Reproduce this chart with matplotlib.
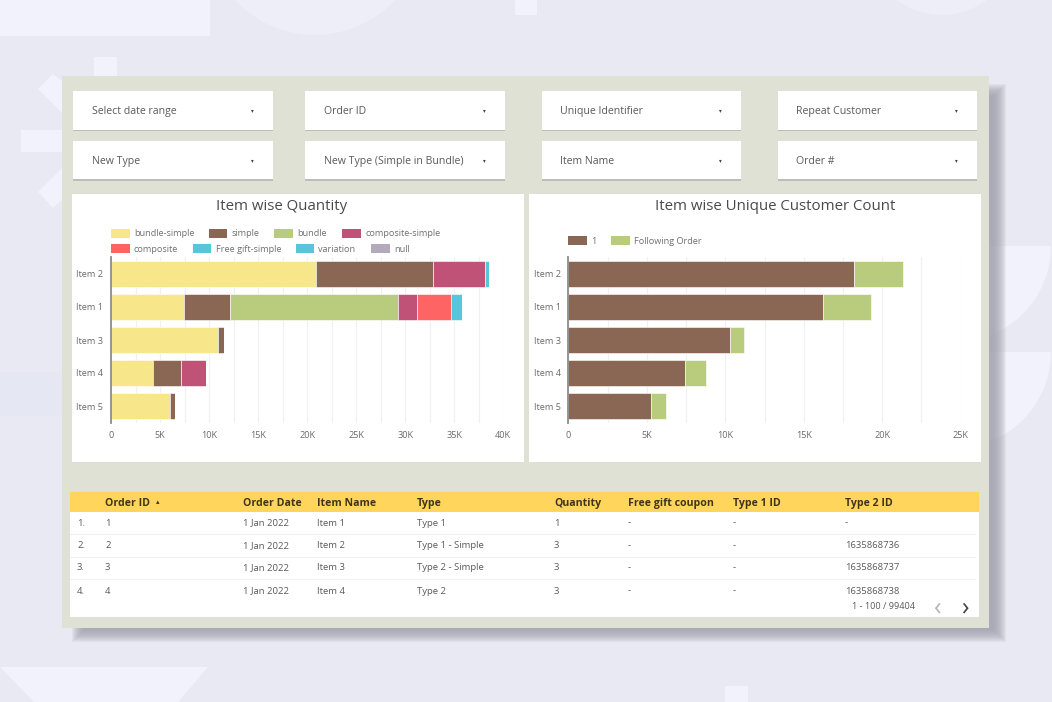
import matplotlib
matplotlib.use("Agg")
import matplotlib.pyplot as plt
from matplotlib.patches import Rectangle, Circle, Wedge, Polygon
from matplotlib.ticker import FuncFormatter, MultipleLocator

W, H = 1052, 702
plt.rcParams['font.family'] = ['Open Sans', 'DejaVu Sans']

# ---- data ----
items = ["Item 2", "Item 1", "Item 3", "Item 4", "Item 5"]
qty_series = ["bundle-simple", "simple", "bundle", "composite-simple",
              "composite", "Free gift-simple", "variation", "null"]
bundle_simple = [20900, 7450, 10900, 4250, 6050]
simple = [11900, 4700, 600, 2900, 450]
bundle = [0, 17100, 0, 0, 0]
composite_simple = [5300, 1900, 0, 2500, 0]
composite = [0, 3500, 0, 0, 0]
free_gift_simple = [400, 1100, 0, 0, 0]
variation = [0, 0, 0, 0, 0]
null_values = [0, 0, 0, 0, 0]
qty_values = [bundle_simple, simple, bundle, composite_simple, composite,
              free_gift_simple, variation, null_values]
qty_colors = ["#F7E78A", "#8A6655", "#B9CC7E", "#C05277", "#FF6464",
              "#57C6D8", "#57C6D8", "#B3ABBC"]

cust_series = ["1", "Following Order"]
cust_first = [18200, 16250, 10300, 7450, 5300]
cust_following = [3150, 3050, 900, 1300, 950]
cust_colors = ["#8A6655", "#B9CC7E"]

filters_row1 = ["Select date range", "Order ID", "Unique Identifier", "Repeat Customer"]
filters_row2 = ["New Type", "New Type (Simple in Bundle)", "Item Name", "Order #"]

table_headers = ["Order ID", "Order Date", "Item Name", "Type", "Quantity",
                 "Free gift coupon", "Type 1 ID", "Type 2 ID"]
table_rows = [
    ["1.", "1", "1 Jan 2022", "Item 1", "Type 1", "1", "-", "-", "-"],
    ["2.", "2", "1 Jan 2022", "Item 2", "Type 1 - Simple", "3", "-", "-", "1635868736"],
    ["3.", "3", "1 Jan 2022", "Item 3", "Type 2 - Simple", "3", "-", "-", "1635868737"],
    ["4.", "4", "1 Jan 2022", "Item 4", "Type 2", "3", "-", "-", "1635868738"],
]

# ---- canvas in pixel coordinates ----
fig = plt.figure(figsize=(W / 100, H / 100), dpi=100, facecolor="#E8E9F3")
bg = fig.add_axes([0, 0, 1, 1])
bg.set_xlim(0, W)
bg.set_ylim(H, 0)
bg.axis("off")

LIGHT = "#F2F2FC"
def rect(x0, y0, x1, y1, color, z=1, alpha=1.0):
    bg.add_patch(Rectangle((x0, y0), x1 - x0, y1 - y0, fc=color, ec="none", zorder=z, alpha=alpha))

# background shapes
rect(0, 0, 210, 36, LIGHT)
rect(515, 0, 537, 15, LIGHT)
rect(94, 57, 117, 76, LIGHT)
rect(21, 130, 62, 152, LIGHT)
rect(725, 686, 748, 702, LIGHT)
rect(0, 372, 62, 416, "#E5E7F2")
bg.add_patch(Circle((315, -74), 109, fc="#EEEEF8", ec="none", zorder=1))
bg.add_patch(Circle((942, -60), 75, fc="#EEEEF8", ec="none", zorder=1))
bg.add_patch(Polygon([(38, 89), (53, 74), (62, 81), (62, 113)], fc=LIGHT, ec="none", zorder=1))
bg.add_patch(Polygon([(38, 192), (53, 208), (62, 200), (62, 168)], fc=LIGHT, ec="none", zorder=1))
bg.add_patch(Polygon([(0, 667), (208, 667), (178, 702), (34, 702)], fc=LIGHT, ec="none", zorder=1))
bg.add_patch(Wedge((955, 246), 96, 0, 180, fc=LIGHT, ec="none", zorder=1))
bg.add_patch(Wedge((955, 352), 96, 0, 180, fc=LIGHT, ec="none", zorder=1))

# soft dashboard shadow
for k in range(13):
    d = 6 - k
    rect(78 - d, 90 - d, 1000 + d, 636 + d, "#9C9DAA", z=2, alpha=0.11)

# dashboard panel
rect(62, 76, 989, 628, "#E0E1D5", z=3)

# filter cards
TXT = "#5A5A5A"
card_x = [(73, 273), (305, 505), (542, 741), (778, 977)]
def card(x0, y0, x1, y1, label):
    rect(x0, y0 + 1.5, x1, y1 + 1.5, "#BDBDB8", z=4)
    rect(x0, y0, x1, y1, "white", z=5)
    bg.text(x0 + 18.5, (y0 + y1) / 2, label, fontsize=7.6, color=TXT,
            va="center_baseline", ha="left", zorder=6)
    bg.text(x1 - 21, (y0 + y1) / 2, "▾", fontsize=4, color="#444444",
            va="center_baseline", ha="center", family="DejaVu Sans", zorder=6)
for (x0, x1), a, b in zip(card_x, filters_row1, filters_row2):
    card(x0, 91, x1, 129.5, a)
    card(x0, 141, x1, 179, b)

# chart cards
rect(72, 194, 524, 462, "white", z=4)
rect(529, 194, 981, 462, "white", z=4)
bg.text(282, 205, "Item wise Quantity", fontsize=10.8, color="#4A4A4A", ha="center",
        va="center_baseline", zorder=6)
bg.text(775, 205, "Item wise Unique Customer Count", fontsize=10.8, color="#4A4A4A", ha="center",
        va="center_baseline", zorder=6)

# hand-flowed legends (as in the reference, entries are not column aligned)
def legend_entry(x, y, label, color):
    rect(x, y - 4.5, x + 18.5, y + 4.5, color, z=6)
    bg.text(x + 23, y, label, fontsize=6.6, color="#707070", va="center_baseline", ha="left", zorder=6)
legend_slots = [(111, 233), (208.5, 233), (274, 233), (342, 233),
                (111, 248), (192.5, 248), (295.5, 248), (371, 248)]
for (x, y), name, col in zip(legend_slots, qty_series, qty_colors):
    legend_entry(x, y, name, col)
for (x, y), name, col in zip([(568, 240.5), (611, 240.5)], cust_series, cust_colors):
    legend_entry(x, y, name, col)

# bar charts
def kfmt(v, _):
    return "0" if v == 0 else f"{int(v / 1000)}K"

def chart(x0, x1, xmax, series, colors):
    y0, y1 = 257.5, 422.5
    ax = fig.add_axes([x0 / W, 1 - y1 / H, (x1 - x0) / W, (y1 - y0) / H], zorder=5)
    ax.patch.set_alpha(0)
    pos = list(range(len(items)))
    left = [0] * len(items)
    for vals, col in zip(series, colors):
        ax.barh(pos, vals, left=left, height=0.79, color=col, edgecolor="#FFFFFF",
                linewidth=0.4, zorder=3)
        left = [a + b for a, b in zip(left, vals)]
    ax.set_xlim(0, xmax)
    ax.set_ylim(len(items) - 0.5, -0.5)
    ax.set_yticks(pos)
    ax.set_yticklabels(items)
    ax.xaxis.set_major_locator(MultipleLocator(5000))
    ax.xaxis.set_minor_locator(MultipleLocator(2500))
    ax.xaxis.set_major_formatter(FuncFormatter(kfmt))
    ax.grid(axis="x", which="both", color="#F1F1F3", linewidth=0.9, zorder=0)
    ax.set_axisbelow(True)
    ax.tick_params(axis="both", which="both", length=0, labelsize=6.6, labelcolor="#6A6A6A")
    ax.tick_params(axis="x", pad=6)
    ax.tick_params(axis="y", pad=5.5)
    for s in ("top", "right", "bottom"):
        ax.spines[s].set_visible(False)
    ax.spines["left"].set_color("#8C8C8C")
    ax.spines["left"].set_linewidth(1.3)
    ax.spines["left"].set_zorder(6)
    return ax

chart(111, 503.3, 40000, qty_values, qty_colors)
chart(568.3, 960.7, 25000, [cust_first, cust_following], cust_colors)

# table
rect(70, 492, 979, 617, "white", z=4)
rect(70, 492, 979, 512, "#FFD55C", z=5)
header_x = [105, 243, 317, 417, 554, 628, 733, 845]
row_x = [77] + header_x
row_y = [522, 545, 567, 590]
for x, h in zip(header_x, table_headers):
    bg.text(x, 502, h, fontsize=7.6, fontweight="bold", color="#3F3518",
            va="center_baseline", ha="left", zorder=6)
bg.text(158, 502, "▴", fontsize=5, color="#3F3518", va="center_baseline", ha="center",
        family="DejaVu Sans", zorder=6)
for y, row in zip(row_y, table_rows):
    for x, val in zip(row_x, row):
        bg.text(x, y, val, fontsize=6.8, color=TXT, va="center_baseline", ha="left", zorder=6)
for y in (534, 557, 579):
    bg.plot([70, 975], [y, y], color="#F0F0F0", lw=0.8, zorder=5)
bg.text(915, 605.5, "1 - 100 / 99404", fontsize=6.6, color=TXT, va="center_baseline", ha="right", zorder=6)
bg.text(937.5, 605, "‹", fontsize=18, color="#B5B5B5", va="center_baseline", ha="center", zorder=6)
bg.text(965, 605, "›", fontsize=18, color="#444444", va="center_baseline", ha="center", zorder=6)

fig.savefig("out.png", dpi=100, facecolor=fig.get_facecolor())
